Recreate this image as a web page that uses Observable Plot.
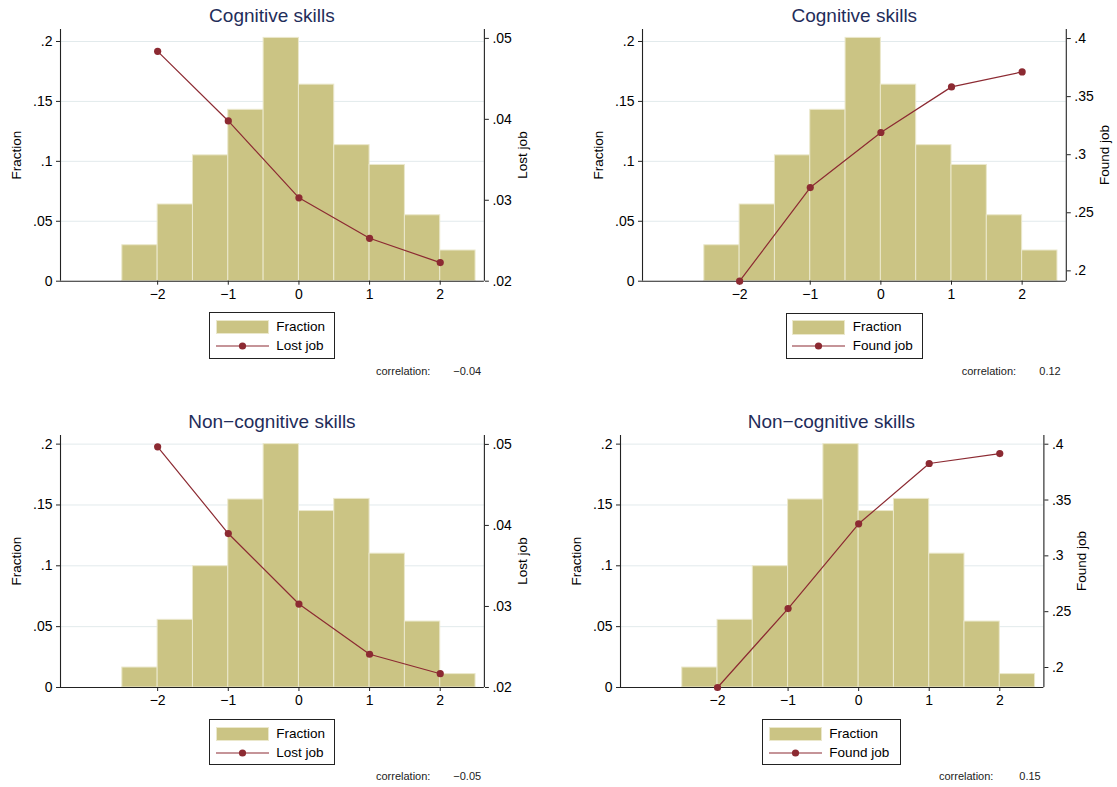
<!DOCTYPE html>
<html><head><meta charset="utf-8">
<script src="https://cdn.jsdelivr.net/npm/d3@7"></script>
<script src="https://cdn.jsdelivr.net/npm/@observablehq/plot@0.6"></script>
<style>
body{margin:0;background:#fff;}
#page{position:relative;width:1117px;height:787px;overflow:hidden;background:#fff;font-family:"Liberation Sans",Arial,Helvetica,sans-serif;color:#000;}
.abs{position:absolute;white-space:nowrap;line-height:1;}
.title{font-size:19px;color:#1f2d5a;transform:translate(-50%,-50%);}
.ylab{font-size:13.5px;transform:translate(-50%,-50%) rotate(-90deg);}
.legend{position:absolute;border:1px solid #222;box-sizing:border-box;background:#fff;}
.leglab{position:absolute;font-size:13.5px;line-height:1;transform:translateY(-50%);white-space:nowrap;}
.corr{font-size:11px;transform:translateY(-50%);color:#222;}
</style></head><body><div id="page"></div><script>
// ---- data ----
const binStarts = [-2.5, -2, -1.5, -1, -0.5, 0, 0.5, 1, 1.5, 2];
const binWidth = 0.5;
const cognitiveFraction = [0.030, 0.064, 0.105, 0.143, 0.203, 0.164, 0.1135, 0.097, 0.055, 0.0256];
const noncognitiveFraction = [0.0164, 0.0556, 0.0997, 0.1545, 0.200, 0.145, 0.155, 0.110, 0.0542, 0.011];
const skillLevels = [-2, -1, 0, 1, 2];
const cognitiveLostJob = [0.0484, 0.0398, 0.0303, 0.0253, 0.0223];
const cognitiveFoundJob = [0.1911, 0.2717, 0.3191, 0.3584, 0.3713];
const noncognitiveLostJob = [0.0497, 0.0390, 0.0303, 0.0241, 0.0217];
const noncognitiveFoundJob = [0.1821, 0.2528, 0.3287, 0.3827, 0.3916];
const fractionTicks = [0, 0.05, 0.1, 0.15, 0.2];
const lostTicks = [0.02, 0.03, 0.04, 0.05];
const foundTicks = [0.2, 0.25, 0.3, 0.35, 0.4];
const xTicks = [-2, -1, 0, 1, 2];
const titles = ["Cognitive skills", "Non−cognitive skills"];
const outcomeLabels = ["Lost job", "Found job"];
const correlations = ["−0.04", "0.12", "−0.05", "0.15"];

// ---- styling ----
const BAR = "#cbc484", BAR_EDGE = "#ebe8cc", LINE = "#8c2a32", GRID = "#e2eaec", AXIS = "#222";
const FONT = '"Liberation Sans", Arial, Helvetica, sans-serif';
const xDomain = [-3.375, 2.625];
const fmt = d => d === 0 ? "0" : String(+d.toFixed(3)).replace(/^0/, "");
const page = document.getElementById("page");

function addDiv(cls, text, left, top, extra) {
  const d = document.createElement("div");
  d.className = "abs " + cls;
  d.textContent = text;
  d.style.left = left + "px";
  d.style.top = top + "px";
  if (extra) Object.assign(d.style, extra);
  page.appendChild(d);
  return d;
}

function panel(c) {
  const mL = 60, mR = 60, mT = 12, mB = 32;
  const W = (c.x1 - c.x0) + mL + mR, H = (c.y1 - c.y0) + mT + mB;
  const style = {background: "transparent", fontFamily: FONT, fontSize: "14px", color: "#000", overflow: "visible"};
  const bars = binStarts.map((s, i) => ({x1: s, x2: s + binWidth, y: c.fraction[i]}));
  const pts = skillLevels.map((x, i) => ({x, y: c.outcome[i]}));
  const p1 = Plot.plot({
    width: W, height: H, marginLeft: mL, marginRight: mR, marginTop: mT, marginBottom: mB, style,
    x: {domain: xDomain}, y: {domain: [0, c.yTop]},
    marks: [
      Plot.gridY(fractionTicks.slice(1), {stroke: GRID, strokeOpacity: 1, strokeWidth: 1}),
      Plot.rectY(bars, {x1: "x1", x2: "x2", y: "y", fill: BAR, stroke: BAR_EDGE, strokeWidth: 1}),
      Plot.axisY(fractionTicks, {anchor: "left", tickSize: 4, tickPadding: 4, tickFormat: fmt, label: null, stroke: AXIS}),
      Plot.axisX(xTicks, {anchor: "bottom", tickSize: 4, tickPadding: 4, tickFormat: d3.format("d"), label: null, stroke: AXIS}),
      Plot.ruleX([xDomain[0]], {stroke: AXIS, strokeWidth: 1.1}),
      Plot.ruleY([0], {stroke: AXIS, strokeWidth: 1.1})
    ]
  });
  const p2 = Plot.plot({
    width: W, height: H, marginLeft: mL, marginRight: mR, marginTop: mT, marginBottom: mB, style,
    x: {domain: xDomain, axis: null}, y: {domain: c.rDomain},
    marks: [
      Plot.axisY(c.rTicks, {anchor: "right", tickSize: 4, tickPadding: 4, tickFormat: fmt, label: null, stroke: AXIS}),
      Plot.ruleX([xDomain[1]], {stroke: AXIS, strokeWidth: 1.1}),
      Plot.line(pts, {x: "x", y: "y", stroke: LINE, strokeWidth: 1.2}),
      Plot.dot(pts, {x: "x", y: "y", r: 3.6, fill: LINE, stroke: "none"})
    ]
  });
  for (const p of [p1, p2]) {
    p.style.position = "absolute";
    p.style.left = (c.x0 - mL) + "px";
    p.style.top = (c.y0 - mT) + "px";
    page.appendChild(p);
  }
  const cy = (c.y0 + c.y1) / 2;
  addDiv("title", c.title, (c.x0 + c.x1) / 2, c.titleY);
  addDiv("ylab", "Fraction", c.fracX, cy);
  addDiv("ylab", c.outLabel, c.outX, cy);
  // legend
  const lg = document.createElement("div");
  lg.className = "legend";
  Object.assign(lg.style, {left: c.lg[0] + "px", top: c.lg[1] + "px", width: c.lg[2] + "px", height: c.lg[3] + "px"});
  const sw = document.createElement("div");
  Object.assign(sw.style, {position: "absolute", left: "5.5px", top: "6.5px", width: "53px", height: "14.5px", background: BAR, boxShadow: "inset 0 0 0 1px " + BAR_EDGE});
  lg.appendChild(sw);
  const ls = document.createElementNS("http://www.w3.org/2000/svg", "svg");
  ls.setAttribute("width", "54"); ls.setAttribute("height", "10");
  Object.assign(ls.style, {position: "absolute", left: "5.5px", top: "27.5px"});
  ls.innerHTML = `<line x1="0" x2="53" y1="5" y2="5" stroke="${LINE}" stroke-width="1.2"/><circle cx="26.5" cy="5" r="3.6" fill="${LINE}"/>`;
  lg.appendChild(ls);
  for (const [t, y] of [["Fraction", 13.5], [c.outLabel, 32.5]]) {
    const s = document.createElement("div");
    s.className = "leglab"; s.textContent = t;
    s.style.left = "66px"; s.style.top = y + "px";
    lg.appendChild(s);
  }
  page.appendChild(lg);
  addDiv("corr", "correlation:", c.corr[0], c.corr[2]);
  addDiv("corr", c.corrVal, c.corr[1], c.corr[2]);
}

panel({x0: 60, x1: 483.9, y0: 29.3, y1: 281, yTop: 0.210, fraction: cognitiveFraction,
  outcome: cognitiveLostJob, rDomain: [0.02, 0.0511], rTicks: lostTicks,
  title: titles[0], titleY: 15, fracX: 16.8, outLabel: outcomeLabels[0], outX: 523.2,
  lg: [209.3, 312.3, 125.7, 47], corr: [376, 453.3, 371], corrVal: correlations[0]});
panel({x0: 642.4, x1: 1066.2, y0: 29.3, y1: 281, yTop: 0.210, fraction: cognitiveFraction,
  outcome: cognitiveFoundJob, rDomain: [0.1911, 0.4078], rTicks: foundTicks,
  title: titles[0], titleY: 15, fracX: 599, outLabel: outcomeLabels[1], outX: 1105.3,
  lg: [785.7, 312.7, 137.6, 46], corr: [961.7, 1039.3, 370.7], corrVal: correlations[1]});
panel({x0: 60, x1: 483.9, y0: 435, y1: 687, yTop: 0.2071, fraction: noncognitiveFraction,
  outcome: noncognitiveLostJob, rDomain: [0.02, 0.0511], rTicks: lostTicks,
  title: titles[1], titleY: 420.7, fracX: 16.8, outLabel: outcomeLabels[0], outX: 523,
  lg: [209.3, 719, 125.7, 46], corr: [376, 453.3, 776], corrVal: correlations[2]});
panel({x0: 619.7, x1: 1043.1, y0: 435, y1: 687, yTop: 0.2071, fraction: noncognitiveFraction,
  outcome: noncognitiveFoundJob, rDomain: [0.1821, 0.4078], rTicks: foundTicks,
  title: titles[1], titleY: 420.7, fracX: 576.7, outLabel: outcomeLabels[1], outX: 1082.2,
  lg: [762.3, 719, 138.4, 45.7], corr: [939, 1019.3, 776], corrVal: correlations[3]});
</script></body></html>
